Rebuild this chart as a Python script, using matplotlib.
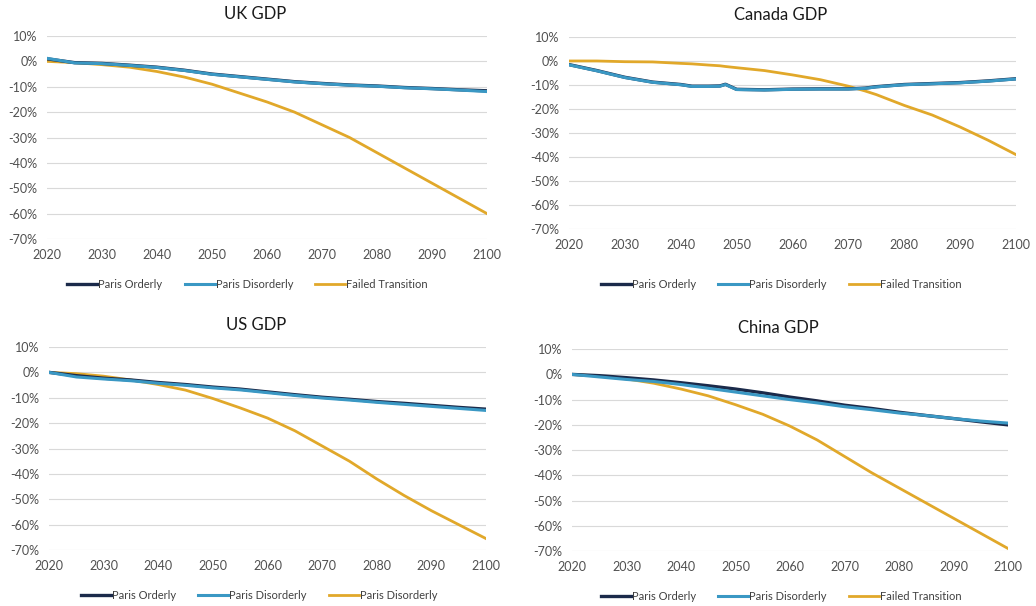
import numpy as np
import matplotlib
matplotlib.use("Agg")
import matplotlib.pyplot as plt
from matplotlib.ticker import FuncFormatter

plt.rcParams['font.family'] = ['Lato', 'DejaVu Sans']

# colours
c_orderly = "#1B2A4A"
c_disorderly = "#3A98C4"
c_failed = "#E1A82A"

years = [2020, 2025, 2030, 2035, 2040, 2045, 2050, 2055, 2060,
         2065, 2070, 2075, 2080, 2085, 2090, 2095, 2100]

# UK GDP (% change)
uk_orderly = [1.0, -0.5, -0.8, -1.5, -2.3, -3.5, -5.0, -6.0, -7.0,
              -8.0, -8.7, -9.3, -9.7, -10.3, -10.7, -11.2, -11.6]
uk_disorderly = [1.2, -0.6, -0.9, -1.6, -2.4, -3.6, -5.1, -6.1, -7.1,
                 -8.1, -8.8, -9.4, -9.8, -10.4, -10.8, -11.3, -11.9]
uk_failed = [0.0, -0.5, -1.3, -2.3, -4.0, -6.2, -9.0, -12.5, -16.0,
             -20.0, -25.0, -30.0, -36.0, -42.0, -48.0, -54.0, -60.0]

# Canada GDP, finer years around the 2048 kink
ca_years = [2020, 2025, 2030, 2035, 2040, 2042, 2045, 2047, 2048, 2050,
            2055, 2060, 2065, 2070, 2073, 2075, 2080, 2085, 2090, 2095, 2100]
ca_orderly = [-1.5, -4.0, -6.8, -8.8, -9.8, -10.5, -10.5, -10.4, -9.7, -11.8,
              -12.0, -11.7, -11.6, -11.6, -11.3, -10.7, -9.8, -9.4, -9.0, -8.3, -7.4]
ca_disorderly = [-1.6, -4.1, -6.9, -8.9, -9.9, -10.6, -10.6, -10.5, -9.8, -11.9,
                 -12.1, -11.8, -11.7, -11.7, -11.4, -10.8, -9.9, -9.5, -9.1, -8.4, -7.5]
ca_failed = [0.0, 0.0, -0.3, -0.4, -1.0, -1.2, -1.7, -2.0, -2.3, -2.8,
             -4.0, -5.8, -7.8, -10.5, -12.5, -14.0, -18.5, -22.5, -27.5, -33.0, -39.0]

# US GDP
us_orderly = [0.0, -1.3, -2.3, -3.0, -4.0, -4.8, -5.8, -6.6, -7.7,
              -8.8, -9.8, -10.6, -11.5, -12.2, -13.0, -13.8, -14.5]
us_disorderly = [0.0, -1.8, -2.6, -3.3, -4.3, -5.1, -6.1, -6.9, -8.0,
                 -9.1, -10.1, -10.9, -11.8, -12.6, -13.4, -14.2, -15.0]
us_failed = [0.0, -0.5, -1.5, -3.0, -4.8, -7.0, -10.3, -14.0, -18.0,
             -23.0, -29.0, -35.0, -42.0, -48.5, -54.5, -60.0, -65.5]

# China GDP
cn_orderly = [0.0, -0.5, -1.3, -2.2, -3.3, -4.5, -5.8, -7.3, -9.0,
              -10.5, -12.2, -13.5, -15.0, -16.3, -17.5, -18.8, -20.0]
cn_disorderly = [0.0, -1.0, -2.0, -2.8, -4.0, -5.5, -7.0, -8.5, -10.0,
                 -11.3, -12.8, -14.0, -15.3, -16.3, -17.5, -18.5, -19.3]
cn_failed = [0.0, -0.7, -1.8, -3.5, -5.8, -8.5, -12.0, -15.8, -20.5,
             -26.0, -32.5, -39.0, -45.0, -51.0, -57.0, -63.0, -69.0]

panels = [
    ("UK GDP", years, uk_orderly, uk_disorderly, uk_failed,
     ["Paris Orderly", "Paris Disorderly", "Failed Transition"],
     [0.0454, 0.6056, 0.4247, 0.335], (0.239, 0.531)),
    ("Canada GDP", ca_years, ca_orderly, ca_disorderly, ca_failed,
     ["Paris Orderly", "Paris Disorderly", "Failed Transition"],
     [0.5492, 0.622, 0.4315, 0.317], (0.754, 0.531)),
    ("US GDP", years, us_orderly, us_disorderly, us_failed,
     ["Paris Orderly", "Paris Disorderly", "Paris Disorderly"],
     [0.0473, 0.0924, 0.4218, 0.335], (0.25, 0.018)),
    ("China GDP", years, cn_orderly, cn_disorderly, cn_failed,
     ["Paris Orderly", "Paris Disorderly", "Failed Transition"],
     [0.5521, 0.0908, 0.4208, 0.333], (0.754, 0.016)),
]

fig = plt.figure(figsize=(10.36, 6.06), dpi=100)

for title, x, orderly, disorderly, failed, labels, pos, legpos in panels:
    ax = fig.add_axes(pos)
    ax.plot(x, orderly, color=c_orderly, lw=2.4, label=labels[0], zorder=3)
    ax.plot(x, disorderly, color=c_disorderly, lw=2.2, label=labels[1], zorder=4)
    ax.plot(x, failed, color=c_failed, lw=2.0, label=labels[2], zorder=2)
    ax.set_xlim(2020, 2100)
    ax.set_ylim(-70, 10)
    ax.set_xticks(np.arange(2020, 2101, 10))
    ax.set_yticks(np.arange(-70, 11, 10))
    ax.yaxis.set_major_formatter(FuncFormatter(lambda v, p: f"{v:.0f}%"))
    ax.grid(axis='y', color="#D9D9D9", lw=0.8)
    ax.set_axisbelow(True)
    for s in ax.spines.values():
        s.set_visible(False)
    ax.tick_params(length=0, labelsize=9, colors="#505050", pad=7)
    ax.set_title(title, fontsize=12, color="#1a1a1a", pad=12, x=0.473)
    fig.legend(*ax.get_legend_handles_labels(), loc='center',
               bbox_to_anchor=legpos, ncol=3, frameon=False, fontsize=8,
               handlelength=2.7, handletextpad=0.1, columnspacing=2.0,
               labelcolor="#404040")

fig.savefig("out.png", dpi=100)
